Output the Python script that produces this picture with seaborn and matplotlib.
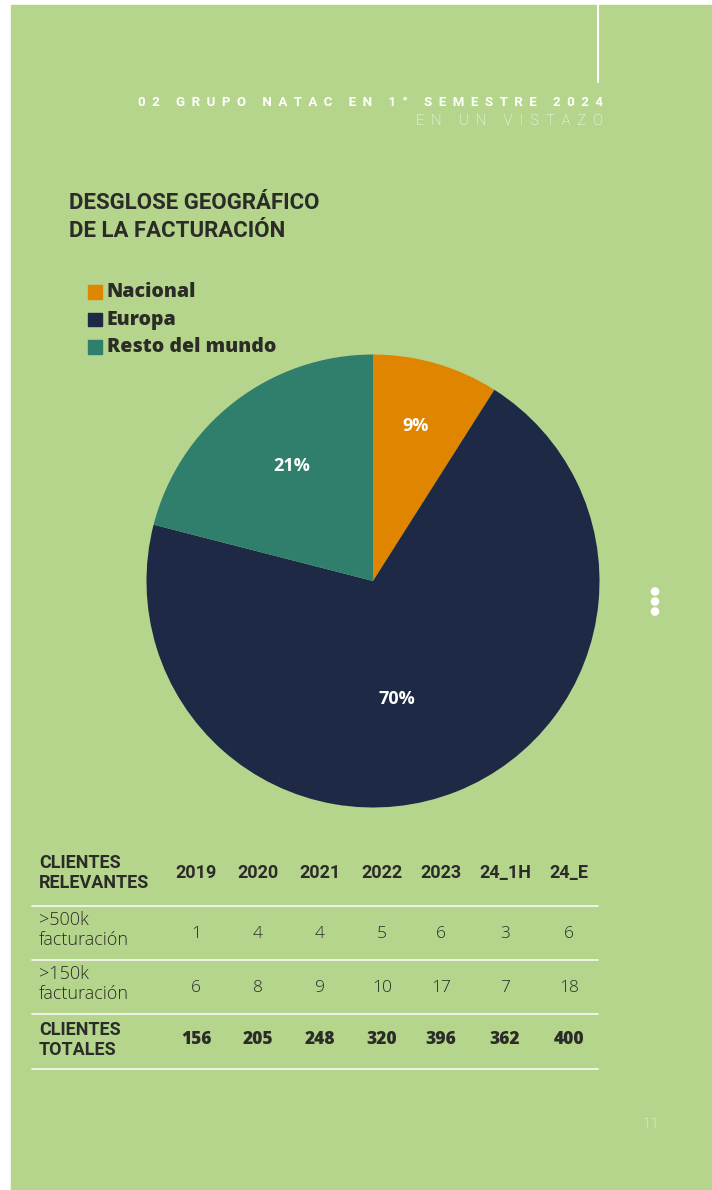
import matplotlib
matplotlib.use("Agg")
import matplotlib.pyplot as plt
import seaborn as sns
import numpy as np
from matplotlib.patches import Rectangle, Circle

sns.set_theme(style="white")
plt.rcParams['font.family'] = ['Roboto', 'DejaVu Sans']

# ---- data ----
regions = ["Nacional", "Europa", "Resto del mundo"]
shares = [9, 70, 21]
region_colors = ["#E08500", "#1E2945", "#2F7F6C"]

years = ["2019", "2020", "2021", "2022", "2023", "24_1H", "24_E"]
row_labels = [">500k\nfacturación", ">150k\nfacturación", "CLIENTES\nTOTALES"]
over_500k = [1, 4, 4, 5, 6, 3, 6]
over_150k = [6, 8, 9, 10, 17, 7, 18]
total_clients = [156, 205, 248, 320, 396, 362, 400]

BG = "#B5D58D"
DARK = "#2B2B28"
W, H = 712, 1190
POP = ['Open Sans', 'DejaVu Sans']

fig = plt.figure(figsize=(W / 100, H / 100), dpi=100)
fig.patch.set_facecolor("white")

# page layer in pixel coordinates
pg = fig.add_axes([0, 0, 1, 1])
pg.set_xlim(0, W)
pg.set_ylim(H, 0)
pg.axis("off")
pg.add_patch(Rectangle((11, 5), W - 11, H - 5, color=BG, zorder=0))
pg.plot([598, 598], [5, 82], color="white", lw=1.5)

def spaced(s, sep="  "):
    return sep.join(list(s))

pg.text(603, 102, spaced("02 GRUPO NATAC EN 1° SEMESTRE 2024"), ha="right", va="center",
        color="white", fontsize=9.5, fontweight="bold")
pg.text(603, 121, spaced("EN UN VISTAZO"), ha="right", va="center",
        color="white", fontsize=10.5, fontweight="light")

pg.text(69, 203, "DESGLOSE GEOGRÁFICO", ha="left", va="center", color=DARK,
        fontsize=16, fontweight="bold")
pg.text(69, 231, "DE LA FACTURACIÓN", ha="left", va="center", color=DARK,
        fontsize=16, fontweight="bold")

# legend
for i, (lab, col) in enumerate(zip(regions, region_colors)):
    y = 292 + i * 27.5
    pg.add_patch(Rectangle((88, y - 7), 13.5, 13.5, color=col))
    pg.text(107, y, lab, ha="left", va="center", color=DARK, fontsize=14,
            fontweight="heavy", family=POP)

# three dots
for yy in (591.5, 601.5, 611.5):
    pg.add_patch(Circle((655, yy), 3.6, color="white"))

pg.text(651, 1124, "11", ha="center", va="center", color="#F2F8EA", fontsize=11,
        fontweight="light")

# ---- pie ----
cx, cy, r = 373, 581, 226.5
pie_ax = fig.add_axes([(cx - r) / W, (H - cy - r) / H, 2 * r / W, 2 * r / H])
wedges, _ = pie_ax.pie(shares, colors=region_colors, startangle=90, counterclock=False,
                       radius=1, wedgeprops=dict(linewidth=0))
# (distance from centre, angular offset from the wedge middle) per label
label_pos = [(0.71, 1.0), (0.53, -10.0), (0.62, -2.6)]
for w, s, (dist, dang) in zip(wedges, shares, label_pos):
    ang = np.deg2rad((w.theta1 + w.theta2) / 2 + dang)
    pie_ax.text(dist * np.cos(ang), dist * np.sin(ang), f"{s}%", ha="center", va="center",
                color="white", fontsize=13, fontweight="bold", family=POP)
pie_ax.set_xlim(-1, 1)
pie_ax.set_ylim(-1, 1)
pie_ax.set_aspect("equal")
pie_ax.axis("off")

# ---- table ----
col_x = [196, 258, 320, 382, 441, 505, 569]
header_y = 873
row_y = [930, 984, 1040]
line_y = [906, 960, 1014, 1069]

pg.text(39, header_y, "CLIENTES\nRELEVANTES", ha="left", va="center", color=DARK,
        fontsize=13, fontweight="bold", linespacing=1.2)
for x, yr in zip(col_x, years):
    pg.text(x, header_y, yr, ha="center", va="center", color=DARK, fontsize=13,
            fontweight="bold")
for ly in line_y:
    pg.plot([32, 598], [ly, ly], color="#F2F7EC", lw=1.3)

rows = [over_500k, over_150k, total_clients]
for ri, (lab, vals) in enumerate(zip(row_labels, rows)):
    bold = ri == 2
    if bold:
        pg.text(39, row_y[ri], lab, ha="left", va="center", color=DARK,
                fontsize=13, fontweight="bold", linespacing=1.2)
    else:
        pg.text(39, row_y[ri], lab, ha="left", va="center", color=DARK,
                fontsize=13, fontweight="light", family=POP, linespacing=1.2)
    for x, v in zip(col_x, vals):
        pg.text(x, row_y[ri] + (4 if not bold else 0), str(v), ha="center", va="center",
                color=DARK, fontsize=12.5, fontweight="heavy" if bold else "light",
                family=POP)

fig.savefig("out.png", dpi=100, facecolor="white")
